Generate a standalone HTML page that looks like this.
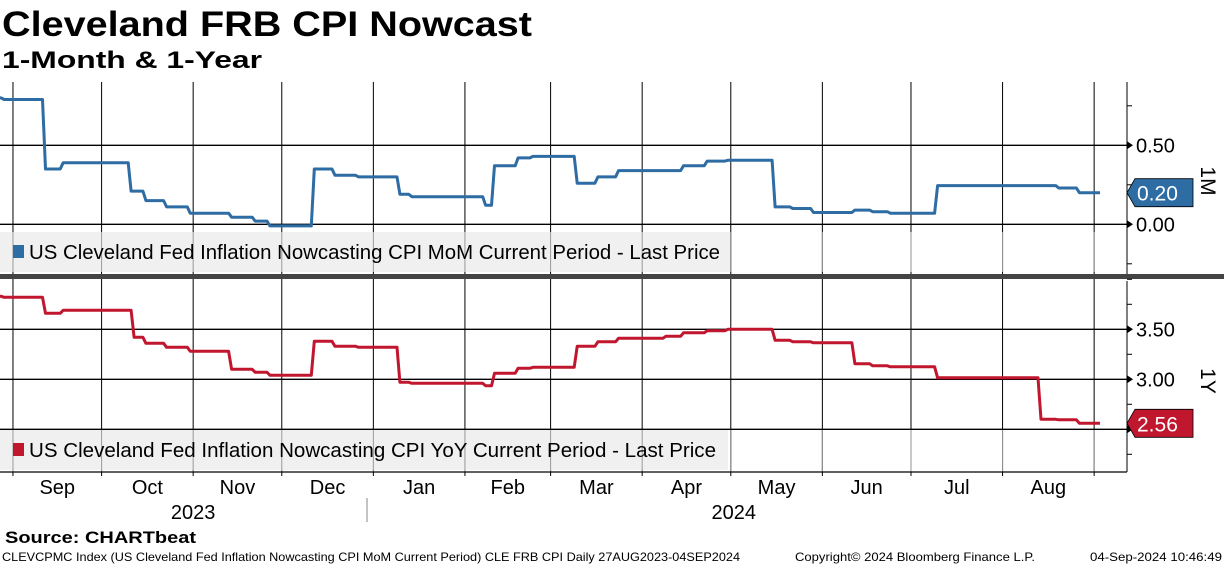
<!DOCTYPE html>
<html><head><meta charset="utf-8"><style>
body{margin:0;background:#fff;}
svg{display:block;font-family:"Liberation Sans","DejaVu Sans",sans-serif;}
</style></head><body>
<svg id="chart" width="1224" height="566" viewBox="0 0 1224 566" xmlns="http://www.w3.org/2000/svg">
<text x="2" y="36" font-size="35" font-weight="bold" textLength="530" lengthAdjust="spacingAndGlyphs">Cleveland FRB CPI Nowcast</text>
<text x="2" y="68" font-size="24" font-weight="bold" textLength="260" lengthAdjust="spacingAndGlyphs">1-Month &amp; 1-Year</text>
<g id="grid"></g>
<rect x="0" y="232" width="730" height="40" fill="#f0f0f0"/>
<rect x="0" y="430" width="728" height="40" fill="#f0f0f0"/>
<g id="grid2"></g>
<g id="series"></g>
<rect x="13" y="245" width="11" height="13" fill="#2e6ca4"/>
<text x="29" y="259" font-size="20" textLength="691" lengthAdjust="spacingAndGlyphs">US Cleveland Fed Inflation Nowcasting CPI MoM Current Period - Last Price</text>
<rect x="13" y="443" width="11" height="13" fill="#c0172f"/>
<text x="29" y="457" font-size="20" textLength="687" lengthAdjust="spacingAndGlyphs">US Cleveland Fed Inflation Nowcasting CPI YoY Current Period - Last Price</text>
<rect x="0" y="274" width="1224" height="5" fill="#444"/>
<g id="axes"></g>
<text transform="translate(1201,181) rotate(90)" font-size="21" text-anchor="middle">1M</text>
<text transform="translate(1201,381) rotate(90)" font-size="21" text-anchor="middle">1Y</text>
<line x1="367" y1="498" x2="367" y2="522" stroke="#888" stroke-width="1"/>
<text x="5" y="543" font-size="17" font-weight="bold" textLength="191" lengthAdjust="spacingAndGlyphs">Source: CHARTbeat</text>
<text x="2" y="561" font-size="12" textLength="738" lengthAdjust="spacingAndGlyphs">CLEVCPMC Index (US Cleveland Fed Inflation Nowcasting CPI MoM Current Period) CLE FRB CPI  Daily 27AUG2023-04SEP2024</text>
<text x="795" y="561" font-size="12" textLength="240" lengthAdjust="spacingAndGlyphs">Copyright© 2024 Bloomberg Finance L.P.</text>
<text x="1090" y="561" font-size="12" textLength="132" lengthAdjust="spacingAndGlyphs">04-Sep-2024 10:46:49</text>
</svg>
<script>
// day offsets from 27 Aug 2023
const monthLabels=["Sep","Oct","Nov","Dec","Jan","Feb","Mar","Apr","May","Jun","Jul","Aug"];
const monthStartDays=[5,35,66,96,127,158,187,218,248,279,309,340,371];
const yearLabels=["2023","2024"];
const mDays=[0,2,16,22,45,50,57,65,79,87,92,107,114,122,136,140,165,168,176,181,196,203,210,232,240,247,263,269,276,290,296,302,318,359,366];
const mVals=[0.80,0.79,0.35,0.39,0.21,0.15,0.11,0.07,0.045,0.02,-0.01,0.35,0.31,0.30,0.19,0.175,0.12,0.37,0.42,0.43,0.26,0.30,0.34,0.37,0.40,0.405,0.11,0.10,0.075,0.09,0.08,0.07,0.245,0.23,0.20];
const yDays=[0,2,16,22,46,50,57,65,79,87,92,107,114,122,136,140,165,168,176,181,196,203,210,226,232,240,247,263,269,276,290,296,302,318,353,359,366];
const yVals=[3.83,3.82,3.66,3.69,3.42,3.36,3.32,3.28,3.10,3.07,3.04,3.38,3.33,3.32,2.97,2.96,2.935,3.06,3.11,3.12,3.33,3.375,3.41,3.43,3.465,3.485,3.50,3.39,3.375,3.365,3.155,3.135,3.125,3.015,2.60,2.595,2.56];
const lastDay=373;
const mTicks=[0.50,0.00];const mTickLabels=["0.50","0.00"];const mMinor=[0.75,0.25,-0.25];
const yTicks=[3.50,3.00,2.50];const yTickLabels=["3.50","3.00",""];const yMinor=[4.0,3.75,3.25,2.75,2.25];

const NS="http://www.w3.org/2000/svg";
const X=d=>-1.8+d*2.954;
const YM=v=>224.3-v*158;
const YY=v=>379.3-(v-3)*100;
const AX=1127;
function mk(parent,tag,attrs){const e=document.createElementNS(NS,tag);for(const k in attrs)e.setAttribute(k,attrs[k]);document.getElementById(parent).appendChild(e);return e;}
monthStartDays.forEach(d=>{
  const e=mk('grid','line',{x1:X(d),x2:X(d),y1:82,y2:472,stroke:'#000','stroke-width':1});
  
  
  const t=mk('grid2','line',{x1:X(d),x2:X(d),y1:232,y2:272,stroke:'#999','stroke-width':1});
  
  
  const t2=mk('grid2','line',{x1:X(d),x2:X(d),y1:430,y2:472,stroke:'#999','stroke-width':1});
  
  
});
mTicks.forEach(v=>{const e=mk('grid','line',{x1:0,x2:AX,y1:YM(v),y2:YM(v),stroke:'#000','stroke-width':1.3});
  
  });
yTicks.forEach(v=>{const e=mk('grid','line',{x1:0,x2:AX,y1:YY(v),y2:YY(v),stroke:'#000','stroke-width':1.3});
  
  });
function path(days,vals,Y){
  let p='';
  for(let i=0;i<days.length;i++){
    const end=i<days.length-1?days[i+1]-1:lastDay;
    p+=(i?'L':'M')+X(days[i]).toFixed(1)+','+Y(vals[i]).toFixed(1)+'L'+X(Math.max(end,days[i])).toFixed(1)+','+Y(vals[i]).toFixed(1);
  }
  return p;
}
const pm=mk('series','path',{d:path(mDays,mVals,YM),fill:'none',stroke:'#2e6ca4','stroke-width':3,'stroke-linejoin':'round'});


const py=mk('series','path',{d:path(yDays,yVals,YY),fill:'none',stroke:'#c0172f','stroke-width':3,'stroke-linejoin':'round'});


[[82,274],[281,472]].forEach(r=>{const e=mk('axes','line',{x1:AX,x2:AX,y1:r[0],y2:r[1],stroke:'#000','stroke-width':1});
  
  });
const b=mk('axes','line',{x1:0,x2:AX,y1:472,y2:472,stroke:'#000','stroke-width':1.3});


monthStartDays.forEach(d=>{const e=mk('axes','line',{x1:X(d),x2:X(d),y1:472,y2:476,stroke:'#000'});
  
  });
monthLabels.forEach((m,i)=>{const t=mk('axes','text',{x:(X(monthStartDays[i])+X(monthStartDays[i+1]))/2,y:494,'font-size':20,'text-anchor':'middle'});
  
  
  t.textContent=m;});
[[5,127],[127,371]].forEach((r,i)=>{const t=mk('axes','text',{x:(X(r[0])+X(r[1]))/2,y:519,'font-size':20,'text-anchor':'middle'});
  
  
  t.textContent=yearLabels[i];});
function ticks(vals,labels,minor,Y){
  vals.forEach((v,i)=>{const y=Y(v);
    const a=mk('axes','path',{d:`M${AX},${y-4}L${AX+6},${y}L${AX},${y+4}Z`,fill:'#000'});
    
    
    if(labels[i]){const t=mk('axes','text',{x:AX+9,y:y+7,'font-size':20});
      
      
      t.textContent=labels[i];}
  });
  minor.forEach(v=>{const y=Y(v);const e=mk('axes','line',{x1:AX,x2:AX+5,y1:y,y2:y,stroke:'#000'});
    
    });
}
ticks(mTicks,mTickLabels,mMinor,YM);
ticks(yTicks,yTickLabels,yMinor,YY);
function badge(v,Y,col,name){const y=Y(v);
  const p=mk('axes','path',{d:`M${AX},${y}L${AX+8},${y-14}L${AX+66},${y-14}L${AX+66},${y+14}L${AX+8},${y+14}Z`,fill:col,stroke:'#000','stroke-width':0.8});
  
  
  const t=mk('axes','text',{x:AX+10,y:y+8,'font-size':21,fill:'#fff'});
  
  
  t.textContent=v.toFixed(2);}
badge(mVals[mVals.length-1],YM,'#2e6ca4','1m');
badge(yVals[yVals.length-1],YY,'#c0172f','1y');
</script>
</body></html>
